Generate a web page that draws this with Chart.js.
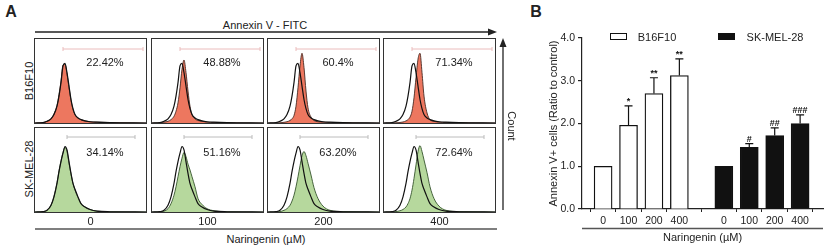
<!DOCTYPE html>
<html>
<head>
<meta charset="utf-8">
<script src="https://cdn.jsdelivr.net/npm/chart.js@4/dist/chart.umd.min.js"></script>
<style>
body{margin:0;background:#fff;}
#fig{position:relative;width:825px;height:249px;overflow:hidden;font-family:"Liberation Sans",Arial,sans-serif;color:#222;}
.t{position:absolute;white-space:nowrap;font-size:11px;line-height:1;transform:translate(-50%,-50%);}
.box{position:absolute;width:111px;height:84px;border:1px solid #333;background:#fff;}
.box canvas{position:absolute;left:0;top:0;}
#deco{position:absolute;left:0;top:0;z-index:5;}
#chartB{position:absolute;left:543px;top:0;}
.lg{position:absolute;width:15px;height:5px;border:1px solid #111;}
</style>
</head>
<body>
<div id="fig">
  <canvas id="chartB" width="282" height="249"></canvas>
  <svg id="deco" width="825" height="249"></svg>
</div>
<script>
// ---- panel A: flow histograms ----
var doses = ["0", "100", "200", "400"];
var b16Percent = ["22.42%", "48.88%", "60.4%", "71.34%"];
var skPercent = ["34.14%", "51.16%", "63.20%", "72.64%"];

// fluorescence bins (box-relative) and counts (% of box height)
var histX = [0, 8, 12, 16, 19, 22, 24, 26, 28, 30, 32, 34, 36, 38, 40, 43, 46, 50, 55, 62, 75, 111];

var b16Control = [0, 0.5, 2, 5, 10, 20, 32, 48, 68, 71, 60, 44, 28, 17, 10, 6, 4, 2.5, 1.5, 1, 0.5, 0];
var b16Dose0   = [0, 0.5, 2, 5, 11, 21, 34, 50, 69, 70, 58, 42, 27, 16, 10, 6, 4, 2.5, 1.5, 1, 0.5, 0];
var b16Dose100 = [0, 0.3, 1, 2, 4, 8, 14, 24, 42, 64, 75, 60, 38, 20, 10, 5, 3, 2, 1, 0.5, 0.3, 0];
var b16Dose200 = [0, 0, 0.3, 0.8, 1.5, 3, 5, 9, 20, 42, 68, 83, 66, 38, 18, 7, 3, 1.5, 1, 0.5, 0.3, 0];
var b16Dose400 = [0, 0, 0.3, 0.6, 1.2, 2.5, 4, 7, 14, 30, 54, 76, 83, 60, 32, 12, 4, 2, 1, 0.5, 0.3, 0];

var skControl = [0, 0.5, 2, 8, 18, 34, 48, 60, 70, 78, 74, 60, 46, 34, 27, 18, 10, 6, 3, 1, 0.3, 0];
var skDose0   = [0, 0.5, 2, 8, 19, 35, 49, 61, 71, 77, 72, 58, 45, 34, 26, 17, 10, 6, 3, 1, 0.3, 0];
var skDose100 = [0, 0.3, 1, 4, 10, 20, 30, 42, 54, 64, 71, 66, 57, 50, 42, 30, 16, 9, 4, 1.5, 0.3, 0];
var skDose200 = [0, 0, 0.5, 2, 4, 8, 13, 20, 30, 42, 55, 67, 72, 67, 58, 44, 29, 16, 7, 2, 0.5, 0];
var skDose400 = [0, 0, 0.5, 1.5, 3, 6, 10, 16, 26, 40, 56, 72, 79, 72, 62, 47, 30, 16, 7, 2, 0.5, 0];

// ---- panel B: bar chart ----
var barLabels = ["0", "100", "200", "400"];
var b16Mean = [1.0, 1.96, 2.70, 3.12];
var b16Err  = [0, 0.45, 0.37, 0.39];
var b16Sig  = ["", "*", "**", "**"];
var skMean = [1.0, 1.44, 1.72, 2.00];
var skErr  = [0, 0.09, 0.18, 0.20];
var skSig  = ["", "#", "##", "###"];

var fig = document.getElementById("fig");
var svg = document.getElementById("deco");
var boxLeft = [34, 151, 267, 383];
var rowTop = [38, 127];

var addText = function(txt, x, y, extra){
    var d = document.createElement("div");
    d.className = "t";
    d.textContent = txt;
    d.style.left = x + "px";
    d.style.top = y + "px";
    if (extra) d.style.cssText += extra;
    fig.appendChild(d);
    return d;
};

var svgLine = function(x1, y1, x2, y2, color, w){
    var l = document.createElementNS("http://www.w3.org/2000/svg", "line");
    l.setAttribute("x1", x1); l.setAttribute("y1", y1);
    l.setAttribute("x2", x2); l.setAttribute("y2", y2);
    l.setAttribute("stroke", color); l.setAttribute("stroke-width", w);
    svg.appendChild(l);
};
var svgPoly = function(pts, color){
    var p = document.createElementNS("http://www.w3.org/2000/svg", "polygon");
    p.setAttribute("points", pts);
    p.setAttribute("fill", color);
    svg.appendChild(p);
};

var toXY = function(ys){
    return ys.map(function(v, i){ return {x: histX[i], y: v}; });
};

var makeHist = function(left, top, control, treated, fill, edge){
    var box = document.createElement("div");
    box.className = "box";
    box.style.left = left + "px";
    box.style.top = top + "px";
    var cv = document.createElement("canvas");
    cv.width = 111; cv.height = 84;
    box.appendChild(cv);
    fig.appendChild(box);
    new Chart(cv, {
        type: "line",
        data: {
            datasets: [
                {data: toXY(control), borderColor: "#111", borderWidth: 1.2, fill: false, pointRadius: 0, cubicInterpolationMode: "monotone"},
                {data: toXY(treated), borderColor: edge, backgroundColor: fill, borderWidth: 0.9, fill: "origin", pointRadius: 0, cubicInterpolationMode: "monotone"}
            ]
        },
        options: {
            responsive: false,
            animation: false,
            devicePixelRatio: 1,
            layout: {padding: 0},
            plugins: {legend: {display: false}, tooltip: {enabled: false}},
            scales: {
                x: {type: "linear", display: false, min: 0, max: 111},
                y: {display: false, min: 0, max: 100}
            }
        }
    });
};

var b16Sets = [b16Dose0, b16Dose100, b16Dose200, b16Dose400];
var skSets = [skDose0, skDose100, skDose200, skDose400];

doses.forEach(function(d, i){
    makeHist(boxLeft[i], rowTop[0], b16Control, b16Sets[i], "rgba(236,112,86,0.95)", "#4a2a22");
    makeHist(boxLeft[i], rowTop[1], skControl, skSets[i], "rgba(178,214,152,0.95)", "#36552c");
    addText(b16Percent[i], boxLeft[i] + 71, rowTop[0] + 24);
    addText(skPercent[i], boxLeft[i] + 71, rowTop[1] + 25);
    // gates
    svgLine(boxLeft[i] + 29, rowTop[0] + 11, boxLeft[i] + 109, rowTop[0] + 11, "#ebbcbc", 1);
    svgLine(boxLeft[i] + 29, rowTop[0] + 9, boxLeft[i] + 29, rowTop[0] + 13, "#ebbcbc", 1);
    svgLine(boxLeft[i] + 109, rowTop[0] + 9, boxLeft[i] + 109, rowTop[0] + 13, "#ebbcbc", 1);
    svgLine(boxLeft[i] + 33, rowTop[1] + 10, boxLeft[i] + 101, rowTop[1] + 10, "#bcbcbc", 1);
    svgLine(boxLeft[i] + 33, rowTop[1] + 8, boxLeft[i] + 33, rowTop[1] + 12, "#bcbcbc", 1);
    svgLine(boxLeft[i] + 101, rowTop[1] + 8, boxLeft[i] + 101, rowTop[1] + 12, "#bcbcbc", 1);
    addText(d, boxLeft[i] + 56.5, 221);
});

// panel A frame text and arrows
addText("A", 11, 12, "font-size:16px;font-weight:bold;");
addText("B", 536, 12, "font-size:16px;font-weight:bold;");
addText("Annexin V - FITC", 265, 25);
svgLine(35, 32, 491, 32, "#222", 1.3);
svgPoly("497,32 488,28.5 488,35.5", "#222");
svgLine(503, 210, 503, 44, "#222", 1.3);
svgPoly("503,38 499.5,47 506.5,47", "#222");
addText("Count", 511, 126, "transform:translate(-50%,-50%) rotate(90deg);");
addText("B16F10", 29, 81, "transform:translate(-50%,-50%) rotate(-90deg);");
addText("SK-MEL-28", 29, 169, "transform:translate(-50%,-50%) rotate(-90deg);");
svgLine(35, 229, 497, 229, "#555", 1.5);
addText("Naringenin (\u00b5M)", 266, 239);

// legend for B
var lg1 = document.createElement("div");
lg1.className = "lg"; lg1.style.left = "610px"; lg1.style.top = "33px"; lg1.style.background = "#fff";
fig.appendChild(lg1);
var lg2 = document.createElement("div");
lg2.className = "lg"; lg2.style.left = "718px"; lg2.style.top = "33px"; lg2.style.background = "#111";
fig.appendChild(lg2);
addText("B16F10", 657, 36.5);
addText("SK-MEL-28", 775, 36.5);

// ---- panel B chart ----
var groupGap = 4.75;
var b16Pos = barLabels.map(function(l, i){ return i; });
var skPos = barLabels.map(function(l, i){ return i + groupGap; });
var tickPos = b16Pos.concat(skPos);
var tickText = barLabels.concat(barLabels);

var errorBars = {
    id: "errorBars",
    afterDatasetsDraw: function(chart){
        var ctx = chart.ctx;
        var yScale = chart.scales.y;
        var errs = [b16Err, skErr];
        var means = [b16Mean, skMean];
        var sigs = [b16Sig, skSig];
        ctx.save();
        ctx.strokeStyle = "#111";
        ctx.fillStyle = "#111";
        ctx.lineWidth = 1.2;
        ctx.font = "bold 9px 'Liberation Sans', Arial, sans-serif";
        ctx.textAlign = "center";
        ctx.textBaseline = "alphabetic";
        chart.data.datasets.forEach(function(ds, di){
            var meta = chart.getDatasetMeta(di);
            meta.data.forEach(function(bar, i){
                var e = errs[di][i];
                var top = yScale.getPixelForValue(means[di][i] + e);
                if (e > 0){
                    ctx.beginPath();
                    ctx.moveTo(bar.x, bar.y);
                    ctx.lineTo(bar.x, top);
                    ctx.moveTo(bar.x - 4, top);
                    ctx.lineTo(bar.x + 4, top);
                    ctx.stroke();
                }
                if (sigs[di][i]) ctx.fillText(sigs[di][i], bar.x, top - 2);
            });
        });
        // second rule under the dose labels
        ctx.strokeStyle = "#555";
        ctx.lineWidth = 1.5;
        ctx.beginPath();
        ctx.moveTo(chart.chartArea.left, chart.chartArea.bottom + 19.5);
        ctx.lineTo(chart.chartArea.right, chart.chartArea.bottom + 19.5);
        ctx.stroke();
        ctx.restore();
    }
};

new Chart(document.getElementById("chartB"), {
    type: "bar",
    data: {
        datasets: [
            {label: "B16F10", data: b16Mean.map(function(v, i){ return {x: b16Pos[i], y: v}; }),
             backgroundColor: "#fff", borderColor: "#111", borderWidth: 1.3, barThickness: 18, grouped: false},
            {label: "SK-MEL-28", data: skMean.map(function(v, i){ return {x: skPos[i], y: v}; }),
             backgroundColor: "#111", borderColor: "#111", borderWidth: 1.3, barThickness: 18, grouped: false}
        ]
    },
    options: {
        responsive: false,
        animation: false,
        devicePixelRatio: 1,
        layout: {padding: {top: 38, right: 2, left: 0, bottom: 0}},
        plugins: {legend: {display: false}, tooltip: {enabled: false}},
        scales: {
            x: {
                type: "linear",
                offset: false,
                min: -0.83,
                max: 8.65,
                afterBuildTicks: function(scale){
                    scale.ticks = tickPos.map(function(v){ return {value: v}; });
                },
                afterFit: function(scale){ scale.height = 40; },
                grid: {display: true, drawOnChartArea: false, drawTicks: true, tickLength: 3, color: "#222", lineWidth: 1},
                border: {display: true, color: "#222", width: 1.2},
                ticks: {
                    autoSkip: false, maxRotation: 0, padding: 3,
                    color: "#222",
                    font: {family: "'Liberation Sans', Arial, sans-serif", size: 10.5},
                    callback: function(v, i){ return tickText[i]; }
                },
                title: {
                    display: true, text: "Naringenin (\u00b5M)", color: "#222",
                    font: {family: "'Liberation Sans', Arial, sans-serif", size: 11},
                    padding: {top: 4, bottom: 4}
                }
            },
            y: {
                min: 0,
                max: 4,
                afterFit: function(scale){ scale.width = 39; },
                grid: {drawOnChartArea: false, drawTicks: true, tickLength: 4, color: "#222", lineWidth: 1.2},
                border: {display: true, color: "#222", width: 1.2},
                ticks: {
                    stepSize: 1, padding: 3, color: "#222",
                    font: {family: "'Liberation Sans', Arial, sans-serif", size: 10.5},
                    callback: function(v){ return v.toFixed(1); }
                },
                title: {
                    display: true, text: "Annexin V+ cells (Ratio to control)", color: "#222",
                    font: {family: "'Liberation Sans', Arial, sans-serif", size: 11},
                    padding: {top: 4, bottom: 2}
                }
            }
        }
    },
    plugins: [errorBars]
});
</script>
</body>
</html>
